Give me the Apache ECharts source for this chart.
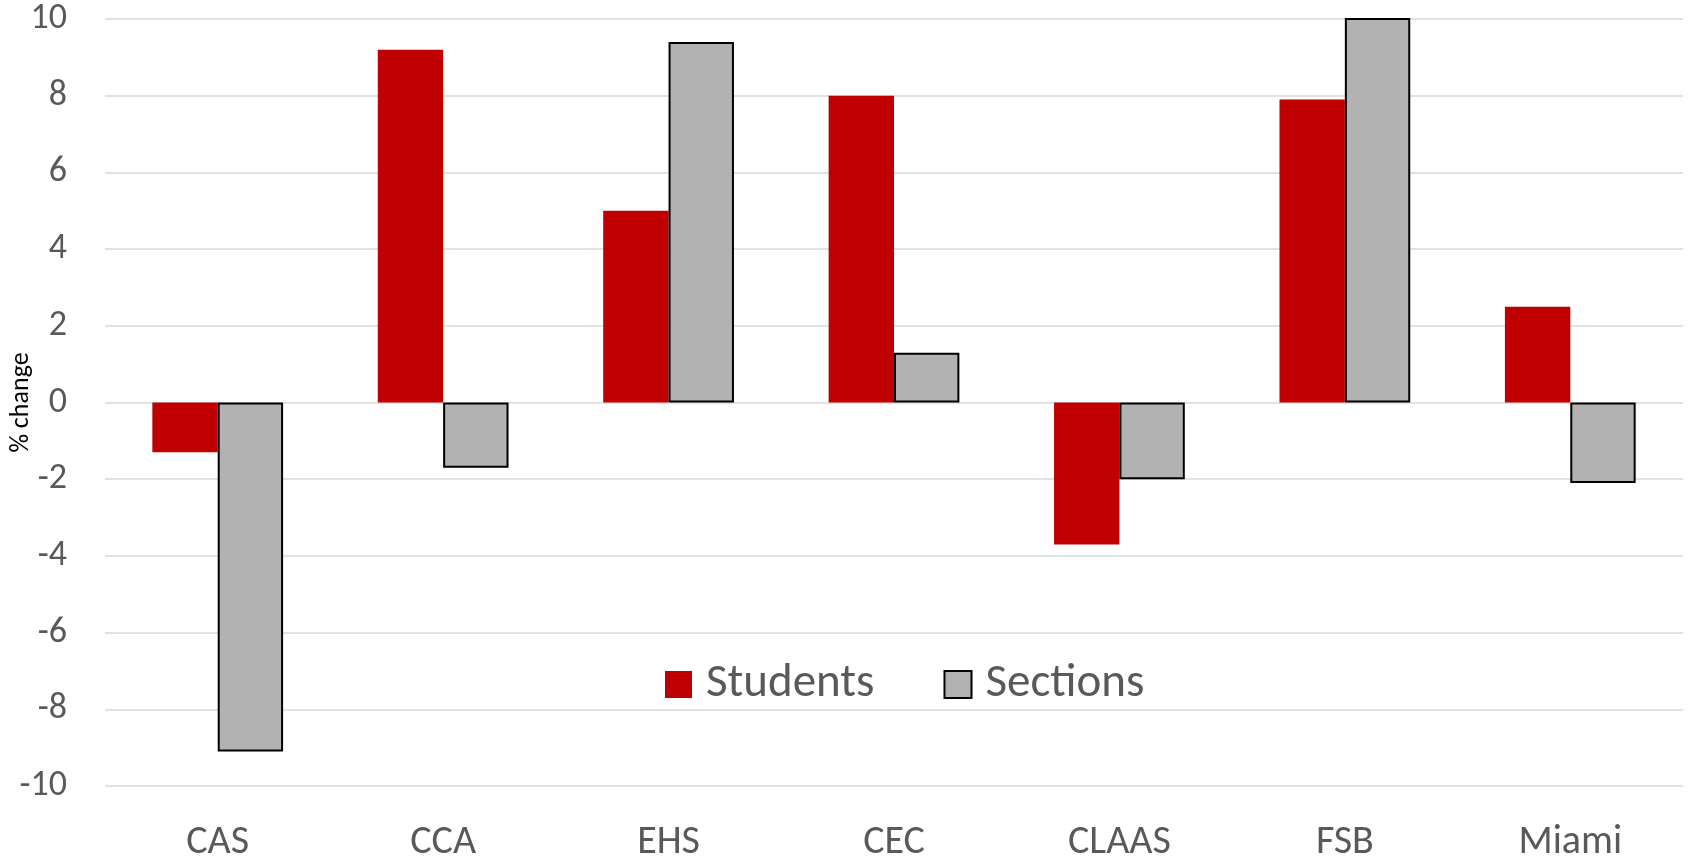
<!DOCTYPE html>
<html>
<head>
<meta charset="utf-8">
<script src="https://cdn.jsdelivr.net/npm/echarts@6/dist/echarts.min.js"></script>
<style>
  html, body { margin: 0; padding: 0; background: #fff; }
  #chart { width: 1690px; height: 862px; }
</style>
</head>
<body>
<div id="chart"></div>
<script>
// college / division labels along the bottom
const colleges = ['CAS', 'CCA', 'EHS', 'CEC', 'CLAAS', 'FSB', 'Miami'];
// % change
const studentsChange = [-1.3, 9.2, 5.0, 8.0, -3.7, 7.9, 2.5];
const sectionsChange = [-9.1, -1.7, 9.4, 1.3, -2.0, 10.4, -2.1];
const yTicks = [-10, -8, -6, -4, -2, 0, 2, 4, 6, 8, 10];

const fontName = 'Carlito, Lato, sans-serif';

const chart = echarts.init(document.getElementById('chart'));
const option = {
    backgroundColor: '#ffffff',
    animation: false,
    grid: {
        left: 105,
        right: 7,
        top: 19,
        bottom: 76,
        outerBoundsMode: 'none'
    },
    legend: {
        left: 660,
        top: 656,
        itemWidth: 27,
        itemHeight: 27,
        itemGap: 69,
        icon: 'rect',
        textStyle: {
            color: '#595959',
            fontSize: 47,
            fontFamily: fontName,
            padding: [0, 0, 0, 9]
        },
        data: ['Students', 'Sections']
    },
    xAxis: {
        type: 'category',
        data: colleges,
        axisLine: { show: false, onZero: false },
        axisTick: { show: false },
        axisLabel: {
            color: '#595959',
            fontSize: 40,
            fontFamily: fontName,
            margin: 37
        }
    },
    yAxis: {
        type: 'value',
        min: yTicks[0],
        max: yTicks[yTicks.length - 1],
        interval: 2,
        name: '% change',
        nameLocation: 'middle',
        nameRotate: 90,
        nameGap: 71,
        nameMoveOverlap: false,
        nameTextStyle: {
            color: '#000000',
            fontSize: 26,
            fontFamily: fontName
        },
        axisLine: { show: false },
        axisTick: { show: false },
        axisLabel: {
            color: '#595959',
            fontSize: 36,
            fontFamily: fontName,
            margin: 38
        },
        splitLine: {
            lineStyle: { color: '#d9d9d9', width: 1.5 }
        }
    },
    series: [
        {
            name: 'Students',
            type: 'bar',
            data: studentsChange,
            barGap: '0%',
            barCategoryGap: '42%',
            clip: true,
            itemStyle: { color: '#c00000' }
        },
        {
            name: 'Sections',
            type: 'bar',
            data: sectionsChange,
            barGap: '0%',
            barCategoryGap: '42%',
            clip: true,
            itemStyle: {
                color: '#b2b2b2',
                borderColor: '#000000',
                borderWidth: 2
            }
        }
    ]
};
chart.setOption(option);
</script>
</body>
</html>
